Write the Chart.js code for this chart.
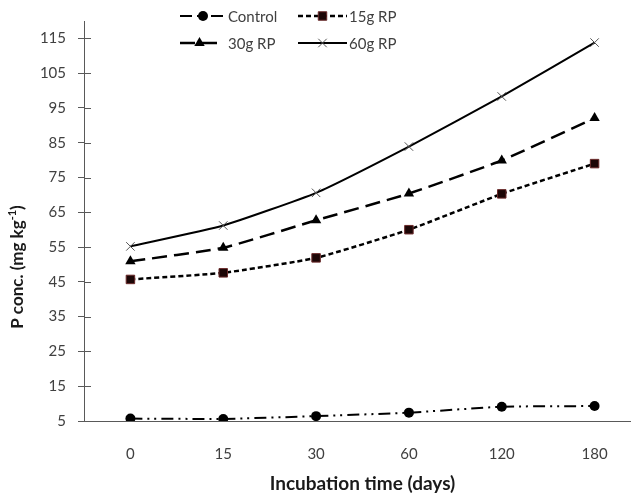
<!DOCTYPE html>
<html>
<head>
<meta charset="utf-8">
<script src="https://cdn.jsdelivr.net/npm/chart.js@4"></script>
<style>
  html, body { margin: 0; padding: 0; background: #fff; overflow: hidden; }
</style>
</head>
<body>
<canvas id="chart" width="648" height="495"></canvas>
<script>
const days = ['0', '15', '30', '60', '120', '180'];
const control = [5.7, 5.6, 6.4, 7.4, 9.1, 9.3];
const rp15 = [45.7, 47.6, 51.9, 60.0, 70.3, 79.0];
const rp30 = [50.9, 54.8, 62.7, 70.4, 79.9, 92.1];
const rp60 = [55.2, 61.2, 70.6, 83.9, 98.3, 113.8];
const yTicks = [5, 15, 25, 35, 45, 55, 65, 75, 85, 95, 105, 115];

const axisColor = '#595959';
const fontFamily = 'Lato, "Open Sans", sans-serif';

const datasets = [
  {
    label: 'Control',
    data: control,
    borderColor: '#000',
    backgroundColor: '#000',
    borderWidth: 2,
    borderDash: [12, 5, 2, 5, 2, 5],
    pointStyle: 'circle',
    pointRadius: 5,
    pointBorderWidth: 0,
  },
  {
    label: '15g RP',
    data: rp15,
    borderColor: '#000',
    backgroundColor: '#1c0606',
    borderWidth: 2.5,
    borderDash: [5, 3],
    pointStyle: 'rect',
    pointRadius: 6,
    pointBorderColor: '#6b2a2a',
    pointBorderWidth: 1,
  },
  {
    label: '30g RP',
    data: rp30,
    borderColor: '#000',
    backgroundColor: '#000',
    borderWidth: 2.5,
    borderDash: [15, 7],
    pointStyle: 'triangle',
    pointRadius: 6,
    pointBorderWidth: 0,
  },
  {
    label: '60g RP',
    data: rp60,
    borderColor: '#000',
    backgroundColor: '#000',
    borderWidth: 2,
    borderDash: [],
    pointStyle: 'crossRot',
    pointRadius: 6,
    pointBorderColor: '#555',
    pointBorderWidth: 1,
  },
];

// legend rows: line sample + marker + text, drawn over the top of the plot
const legendSpots = [
  { x0: 180, x1: 226, tx: 228, y: 16 },
  { x0: 298, x1: 347, tx: 349, y: 16 },
  { x0: 180, x1: 219, tx: 228, y: 43 },
  { x0: 298, x1: 347, tx: 349, y: 43 },
];

const legendPlugin = {
  id: 'lineLegend',
  afterDraw(chart) {
    const ctx = chart.ctx;
    chart.data.datasets.forEach((ds, i) => {
      const s = legendSpots[i];
      ctx.save();
      ctx.strokeStyle = ds.borderColor;
      ctx.lineWidth = ds.borderWidth;
      ctx.setLineDash(ds.borderDash);
      ctx.beginPath();
      ctx.moveTo(s.x0, s.y);
      ctx.lineTo(s.x1, s.y);
      ctx.stroke();
      ctx.setLineDash([]);
      ctx.fillStyle = ds.backgroundColor;
      ctx.strokeStyle = ds.pointBorderColor || ds.backgroundColor;
      ctx.lineWidth = ds.pointBorderWidth || 0.001;
      Chart.helpers.drawPoint(ctx, { pointStyle: ds.pointStyle, radius: ds.pointRadius, borderWidth: ds.pointBorderWidth, rotation: 0 }, (s.x0 + s.x1) / 2, s.y);
      ctx.fillStyle = '#404040';
      ctx.font = '15px ' + fontFamily;
      ctx.textBaseline = 'middle';
      ctx.textAlign = 'left';
      ctx.fillText(ds.label, s.tx, s.y + 1);
      ctx.restore();
    });
  },
};

// small inward tick marks on the y axis + rotated y title with superscript
const axisExtras = {
  id: 'axisExtras',
  afterDraw(chart) {
    const ctx = chart.ctx;
    const y = chart.scales.y;
    ctx.save();
    ctx.strokeStyle = axisColor;
    ctx.lineWidth = 1;
    yTicks.forEach((v) => {
      const py = Math.round(y.getPixelForValue(v)) + 0.5;
      ctx.beginPath();
      ctx.moveTo(chart.chartArea.left, py);
      ctx.lineTo(chart.chartArea.left + 7, py);
      ctx.stroke();
    });

    ctx.translate(18, 267);
    ctx.rotate(-Math.PI / 2);
    ctx.fillStyle = '#1a1a1a';
    ctx.textBaseline = 'middle';
    ctx.textAlign = 'left';
    const big = 'bold 17px ' + fontFamily;
    const small = 'bold 11px ' + fontFamily;
    const parts = [
      { t: 'P conc. (mg kg', f: big, dy: 0 },
      { t: '-1', f: small, dy: -6 },
      { t: ')', f: big, dy: 0 },
    ];
    let total = 0;
    parts.forEach((p) => { ctx.font = p.f; total += ctx.measureText(p.t).width; });
    let x = -total / 2;
    parts.forEach((p) => {
      ctx.font = p.f;
      ctx.fillText(p.t, x, p.dy);
      x += ctx.measureText(p.t).width;
    });
    ctx.restore();
  },
};

new Chart(document.getElementById('chart').getContext('2d'), {
  type: 'line',
  data: { labels: days, datasets },
  options: {
    responsive: false,
    animation: false,
    layout: { padding: { top: 21, right: 0, bottom: 0, left: 0 } },
    elements: { line: { tension: 0.15 } },
    plugins: { legend: { display: false }, tooltip: { enabled: false } },
    scales: {
      x: {
        offset: true,
        grid: { display: true, drawOnChartArea: false, drawTicks: false, color: axisColor },
        border: { display: true, color: axisColor, width: 1 },
        ticks: { color: '#404040', padding: 24, font: { family: fontFamily, size: 15 }, maxRotation: 0 },
        title: {
          display: true,
          text: 'Incubation time (days)',
          color: '#1a1a1a',
          font: { family: fontFamily, size: 19, weight: 'bold' },
          padding: { top: 0, bottom: 0 },
        },
        afterFit: (scale) => { scale.height = 74; },
      },
      y: {
        min: 5,
        max: 120,
        afterBuildTicks: (scale) => { scale.ticks = yTicks.map((v) => ({ value: v })); },
        grid: { display: true, drawOnChartArea: false, drawTicks: true, tickLength: 6, color: axisColor },
        border: { display: true, color: axisColor, width: 1 },
        ticks: { color: '#404040', padding: 12, font: { family: fontFamily, size: 15 } },
        afterFit: (scale) => { scale.width = 84; },
      },
    },
  },
  plugins: [legendPlugin, axisExtras],
});
</script>
</body>
</html>
